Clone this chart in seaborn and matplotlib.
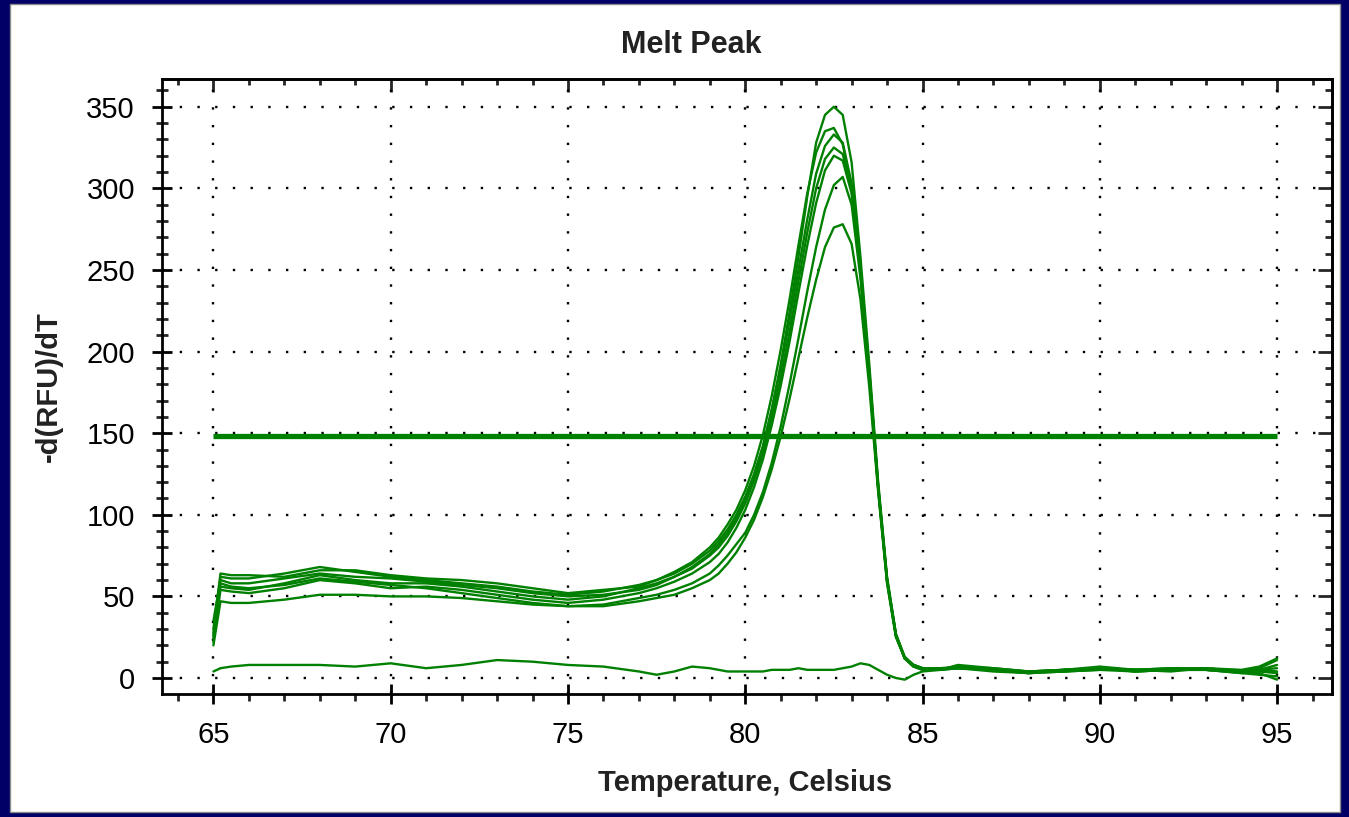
import numpy as np
import pandas as pd
import matplotlib
matplotlib.use("Agg")
import matplotlib.pyplot as plt
from matplotlib.patches import Rectangle
from matplotlib.ticker import MultipleLocator
import seaborn as sns

# ---------------- data ----------------
temps = [65, 65.2, 65.5, 66, 67, 68, 69, 70, 71, 72, 73, 74, 75, 76, 77, 77.5, 78, 78.5,
         79, 79.25, 79.5, 79.75, 80, 80.25, 80.5, 80.75, 81, 81.25, 81.5, 81.75, 82, 82.25,
         82.5, 82.75, 83, 83.25, 83.5, 83.75, 84, 84.25, 84.5, 84.75, 85, 85.5,
         86, 87, 88, 89, 90, 91, 92, 93, 94, 94.5, 95]

well_a = [25, 62, 61, 61, 64, 68, 65, 62, 60, 58, 56, 53, 51, 53, 57, 60, 64, 70,
          78, 84, 91, 100, 111, 125, 142, 165, 192, 224, 258, 295, 328, 345, 350, 345, 316, 258, 192, 120, 62, 27, 13, 8, 6, 6,
          7, 5, 4, 5, 6, 5, 5, 6, 4, 6, 11]
well_b = [30, 64, 63, 63, 62, 66, 66, 63, 61, 60, 58, 55, 52, 54, 56, 60, 65, 71,
          80, 86, 94, 103, 115, 130, 149, 173, 201, 232, 265, 297, 322, 335, 337, 327, 300, 248, 185, 116, 60, 26, 12, 7, 6, 5,
          7, 6, 4, 5, 6, 4, 5, 5, 4, 5, 8]
well_c = [35, 60, 58, 58, 61, 64, 62, 61, 59, 57, 55, 52, 50, 51, 54, 57, 62, 68,
          76, 82, 89, 98, 110, 124, 142, 164, 190, 219, 250, 281, 309, 326, 333, 328, 303, 252, 188, 118, 61, 27, 12, 8, 6, 6,
          6, 5, 3, 4, 5, 5, 6, 5, 3, 4, 3]
well_d = [28, 56, 55, 54, 58, 63, 60, 58, 58, 56, 53, 50, 48, 50, 55, 58, 62, 67,
          75, 80, 87, 96, 107, 121, 138, 159, 184, 212, 243, 273, 300, 318, 325, 321, 299, 250, 187, 117, 60, 26, 12, 7, 6, 5,
          8, 6, 4, 5, 7, 5, 6, 6, 5, 7, 12]
well_e = [22, 54, 53, 52, 55, 60, 58, 55, 56, 54, 51, 48, 46, 48, 52, 55, 59, 64,
          71, 76, 83, 92, 103, 117, 134, 155, 179, 206, 236, 265, 291, 311, 320, 317, 297, 249, 186, 117, 60, 26, 12, 8, 6, 6,
          6, 5, 4, 4, 6, 4, 5, 5, 4, 3, -1]
well_f = [26, 58, 56, 55, 57, 61, 59, 57, 55, 52, 49, 46, 44, 45, 49, 51, 54, 58,
          64, 69, 75, 82, 89, 100, 114, 132, 154, 180, 208, 237, 264, 287, 302, 307, 290, 245, 184, 116, 59, 26, 12, 7, 5, 5,
          7, 5, 3, 4, 5, 4, 5, 5, 3, 2, 1]
well_g = [20, 47, 46, 46, 48, 51, 51, 50, 50, 49, 47, 45, 44, 44, 47, 49, 51, 55,
          60, 64, 70, 77, 86, 97, 111, 128, 148, 171, 196, 221, 244, 264, 276, 278, 266, 232, 178, 114, 58, 25, 12, 7, 5, 5,
          6, 5, 3, 5, 6, 5, 4, 6, 4, 5, 6]
well_ntc = [4, 6, 7, 8, 8, 8, 7, 9, 6, 8, 11, 10, 8, 7, 4, 2, 4, 7,
            6, 5, 4, 4, 4, 4, 4, 5, 5, 5, 6, 5, 5, 5, 5, 6, 7, 9, 8, 5, 2, 0, -1, 2, 4, 5,
            6, 4, 3, 5, 6, 5, 5, 5, 4, 5, 4]

wells = {"A": well_a, "B": well_b, "C": well_c, "D": well_d,
         "E": well_e, "F": well_f, "G": well_g, "NTC": well_ntc}

threshold_value = 148
threshold_start = 65
threshold_end = 95

x_ticks = [65, 70, 75, 80, 85, 90, 95]
y_ticks = [0, 50, 100, 150, 200, 250, 300, 350]

title = "Melt Peak"
x_label = "Temperature, Celsius"
y_label = "-d(RFU)/dT"

df = pd.concat([pd.DataFrame({"temp": temps, "value": v, "well": k}) for k, v in wells.items()],
               ignore_index=True)

# ---------------- style ----------------
sns.set_theme(style="ticks")
plt.rcParams["font.family"] = ["Liberation Sans", "DejaVu Sans"]

W, H = 1349, 817
fig = plt.figure(figsize=(W / 100, H / 100), dpi=100)
fig.patch.set_facecolor("#000066")
bg = Rectangle((10 / W, 1 - 812 / H), (1340 - 10) / W, (812 - 4) / H,
               transform=fig.transFigure, facecolor="white",
               edgecolor="#8a8a8a", linewidth=1.0, zorder=-10)
fig.add_artist(bg)

ax = fig.add_axes([162 / W, 1 - 694 / H, (1332 - 162) / W, (694 - 79) / H])
ax.set_zorder(1)
ax.set_facecolor("white")

green = "#008000"
sns.lineplot(data=df, x="temp", y="value", units="well", estimator=None, sort=False,
             color=green, linewidth=1.7, ax=ax, legend=False, zorder=3)
ax.hlines(threshold_value, threshold_start, threshold_end, color=green, linewidth=3.8, zorder=4)

ax.set_xlim(63.55, 96.55)
ax.set_ylim(-9.8, 367)
ax.set_xticks(x_ticks)
ax.set_yticks(y_ticks)
ax.xaxis.set_minor_locator(MultipleLocator(1))
ax.yaxis.set_minor_locator(MultipleLocator(10))

for s in ax.spines.values():
    s.set_visible(True)
    s.set_linewidth(2.0)
    s.set_color("black")

ax.tick_params(axis="x", which="major", direction="inout", length=15, width=2.0,
               labelsize=21, pad=12, colors="black", top=False)
ax.tick_params(axis="x", which="minor", direction="out", length=5, width=2.0, top=False)
ax.tick_params(axis="y", which="major", direction="inout", length=15, width=2.0,
               labelsize=21, pad=12, colors="black", right=False)
ax.tick_params(axis="y", which="minor", direction="inout", length=8, width=2.0, right=False)

# inward ticks on top and right
sx = ax.secondary_xaxis("top")
sx.set_xticks(x_ticks)
sx.xaxis.set_minor_locator(MultipleLocator(1))
sx.tick_params(which="major", direction="in", length=9, width=2.0, labeltop=False)
sx.tick_params(which="minor", direction="in", length=4.5, width=2.0)
sx.spines["top"].set_linewidth(2.0)
sy = ax.secondary_yaxis("right")
sy.set_yticks(y_ticks)
sy.yaxis.set_minor_locator(MultipleLocator(10))
sy.tick_params(which="major", direction="in", length=10, width=2.0, labelright=False)
sy.tick_params(which="minor", direction="in", length=5, width=2.0)
sy.spines["right"].set_linewidth(2.0)

ax.grid(True, which="major", color="black", linestyle=(0, (1, 6.5)), linewidth=1.7)
ax.set_axisbelow(True)

ax.set_xlabel(x_label, fontsize=21, fontweight="bold", color="#222222")
ax.set_ylabel(y_label, fontsize=21, fontweight="bold", color="#222222")
ax.xaxis.set_label_coords(0.498, -0.122)
ax.yaxis.set_label_coords(-0.085, 0.5)
ax.xaxis.label.set_va("top")

fig.text(691 / W, 1 - 45 / H, title, ha="center", va="center", fontsize=22,
         fontweight="bold", color="#222222")

fig.savefig("out.png", dpi=100, facecolor=fig.get_facecolor())
